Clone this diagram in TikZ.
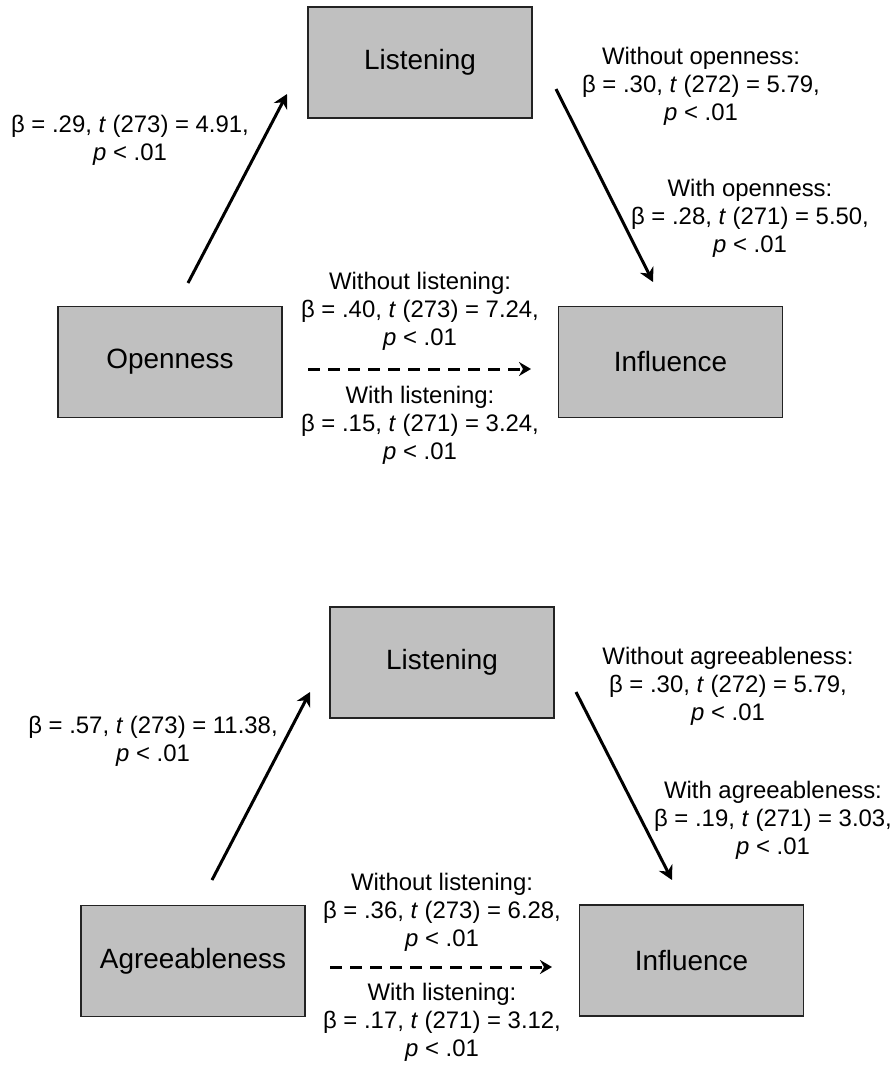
\documentclass[tikz,border=0pt]{standalone}
\usepackage{fontspec}
\setmainfont{Liberation Sans}
\usetikzlibrary{arrows.meta}
\definecolor{boxfill}{RGB}{192,192,192}
\definecolor{boxline}{RGB}{35,35,35}
\begin{document}
\begin{tikzpicture}[x=1pt,y=-1pt,
  box/.style={draw=boxline, line width=1.5pt, fill=boxfill,
    minimum width=224pt, minimum height=111pt, inner sep=0pt,
    font=\fontsize{27.9}{32}\selectfont},
  lbl/.style={align=center, inner sep=0pt, font=\fontsize{23.9}{28}\selectfont},
  link/.style={line width=3pt, -{Stealth[length=14pt,width=15pt,inset=4.5pt]}},
  dlink/.style={line width=3pt, dash pattern=on 12pt off 8pt,
    -{Stealth[length=12pt,width=14pt,inset=4pt]}}]
\useasboundingbox (0,0) rectangle (895,1069);

% ---------- openness model ----------
\node[box] (L1) at (420,62.5) {Listening};
\node[box] (O1) at (170,362) {Openness};
\node[box] (I1) at (670.5,362) {Influence};

\coordinate (a1s) at (188,283);
\coordinate (a1e) at (287,94);
\coordinate (a2s) at (556,89);
\coordinate (a2e) at (653,282);
\coordinate (d1s) at (308,369);
\coordinate (d1e) at (531,369);

\draw[link] (a1s) -- (a1e);
\draw[link] (a2s) -- (a2e);
\draw[dlink] (d1s) -- (d1e);

\node[lbl] (t1) at (130,140) {β = .29, \textit{t} (273) = 4.91,\\ \textit{p} < .01};
\node[lbl] (t2) at (701,86) {Without openness:\\ β = .30, \textit{t} (272) = 5.79,\\ \textit{p} < .01};
\node[lbl] (t3) at (750,218) {With openness:\\ β = .28, \textit{t} (271) = 5.50,\\ \textit{p} < .01};
\node[lbl] (t4) at (420,311) {Without listening:\\ β = .40, \textit{t} (273) = 7.24,\\ \textit{p} < .01};
\node[lbl] (t5) at (420,425) {With listening:\\ β = .15, \textit{t} (271) = 3.24,\\ \textit{p} < .01};

% ---------- agreeableness model ----------
\node[box] (L2) at (442,662.5) {Listening};
\node[box] (A2) at (193,961) {Agreeableness};
\node[box] (I2) at (691.5,960.5) {Influence};

\coordinate (a3s) at (212,880);
\coordinate (a3e) at (310,692);
\coordinate (a4s) at (576,692);
\coordinate (a4e) at (672,880);
\coordinate (d2s) at (330,967);
\coordinate (d2e) at (552,967);

\draw[link] (a3s) -- (a3e);
\draw[link] (a4s) -- (a4e);
\draw[dlink] (d2s) -- (d2e);

\node[lbl] (u1) at (153,741) {β = .57, \textit{t} (273) = 11.38,\\ \textit{p} < .01};
\node[lbl] (u2) at (728,686) {Without agreeableness:\\ β = .30, \textit{t} (272) = 5.79,\\ \textit{p} < .01};
\node[lbl] (u3) at (773,820) {With agreeableness:\\ β = .19, \textit{t} (271) = 3.03,\\ \textit{p} < .01};
\node[lbl] (u4) at (442,912) {Without listening:\\ β = .36, \textit{t} (273) = 6.28,\\ \textit{p} < .01};
\node[lbl] (u5) at (442,1022) {With listening:\\ β = .17, \textit{t} (271) = 3.12,\\ \textit{p} < .01};
\end{tikzpicture}
\end{document}
